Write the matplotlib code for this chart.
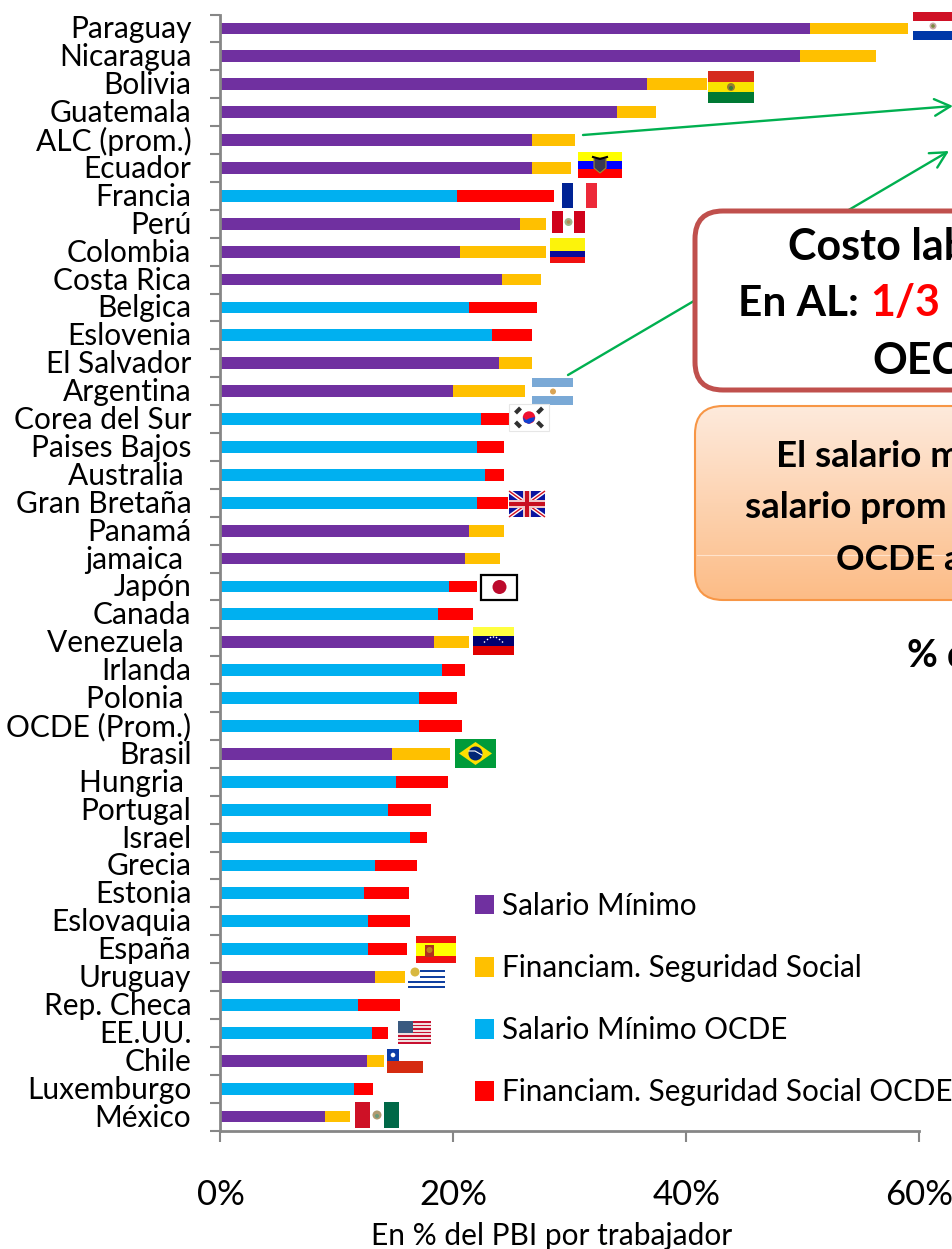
import numpy as np
import matplotlib
matplotlib.use("Agg")
import matplotlib.pyplot as plt
from matplotlib.patches import Rectangle, FancyBboxPatch, Circle, Polygon
from matplotlib.transforms import ScaledTranslation

plt.rcParams['font.family'] = ['Lato', 'DejaVu Sans']

categories = ["Paraguay", "Nicaragua", "Bolivia", "Guatemala", "ALC (prom.)", "Ecuador", "Francia", "Perú",
              "Colombia", "Costa Rica", "Belgica", "Eslovenia", "El Salvador", "Argentina", "Corea del Sur",
              "Paises Bajos", "Australia ", "Gran Bretaña", "Panamá", "jamaica ", "Japón", "Canada", "Venezuela ",
              "Irlanda", "Polonia ", "OCDE (Prom.)", "Brasil", "Hungria ", "Portugal", "Israel", "Grecia",
              "Estonia", "Eslovaquia", "España", "Uruguay", "Rep. Checa", "EE.UU.", "Chile", "Luxemburgo", "México"]
salario = [50.6, 49.7, 36.6, 34.0, 26.7, 26.7, 20.3, 25.7, 20.6, 24.2, 21.3, 23.3, 23.9, 20.0, 22.4, 22.0, 22.7,
           22.0, 21.3, 21.0, 19.6, 18.7, 18.3, 19.0, 17.0, 17.0, 14.7, 15.1, 14.4, 16.3, 13.3, 12.3, 12.7, 12.7,
           13.3, 11.8, 13.0, 12.6, 11.5, 9.0]
seguridad = [8.4, 6.6, 5.15, 3.35, 3.7, 3.35, 8.3, 2.2, 7.3, 3.35, 5.9, 3.4, 2.8, 6.1, 2.6, 2.3, 1.6, 2.7, 3.0,
             3.0, 2.4, 3.0, 3.0, 2.0, 3.3, 3.7, 5.0, 4.4, 3.7, 1.4, 3.6, 3.9, 3.6, 3.3, 2.5, 3.6, 1.4, 1.45,
             1.55, 2.1]
ocde = ["Francia", "Belgica", "Eslovenia", "Corea del Sur", "Paises Bajos", "Australia ", "Gran Bretaña", "Japón",
        "Canada", "Irlanda", "Polonia ", "OCDE (Prom.)", "Hungria ", "Portugal", "Israel", "Grecia", "Estonia",
        "Eslovaquia", "España", "Rep. Checa", "EE.UU.", "Luxemburgo"]
x_ticks = [0, 20, 40, 60]
x_labels = ["0%", "20%", "40%", "60%"]
series_names = ["Salario Mínimo", "Financiam. Seguridad Social", "Salario Mínimo OCDE", "Financiam. Seguridad Social OCDE"]
series_colors = ["#7030A0", "#FFC000", "#00B0F0", "#FF0000"]

W, H = 953, 1249
fig = plt.figure(figsize=(W / 100, H / 100), dpi=100, facecolor="white")
ax = fig.add_axes([220.5 / W, 1 - 1130.5 / H, (919.5 - 220.5) / W, (1130.5 - 14.5) / H])

y = np.arange(len(categories))
sal = np.array(salario)
seg = np.array(seguridad)
is_o = np.array([c in ocde for c in categories])
h = 0.42
ax.barh(y[~is_o], sal[~is_o], height=h, color=series_colors[0], label=series_names[0])
ax.barh(y[~is_o], seg[~is_o], left=sal[~is_o], height=h, color=series_colors[1], label=series_names[1])
ax.barh(y[is_o], sal[is_o], height=h, color=series_colors[2], label=series_names[2])
ax.barh(y[is_o], seg[is_o], left=sal[is_o], height=h, color=series_colors[3], label=series_names[3])

ax.set_xlim(0, 60)
ax.set_ylim(len(categories) - 0.5, -0.5)
for s in ("top", "right"):
    ax.spines[s].set_visible(False)
for s in ("left", "bottom"):
    ax.spines[s].set_color("#868686")
    ax.spines[s].set_linewidth(2.0)
ax.set_yticks(np.arange(len(categories) + 1) - 0.5)
ax.set_yticklabels([])
ax.tick_params(axis="y", which="major", length=7.5, width=1.5, color="#868686")
ax.set_yticks(y, minor=True)
ax.set_yticklabels(categories, minor=True, fontsize=21.5, color="black")
ax.tick_params(axis="y", which="minor", length=0, pad=21)
lift = ScaledTranslation(0, 1.5 / 100, fig.dpi_scale_trans)
for lab in ax.get_yticklabels(minor=True):
    lab.set_transform(lab.get_transform() + lift)
ax.set_xticks(x_ticks)
ax.set_xticklabels(x_labels, fontsize=25)
ax.tick_params(axis="x", length=8, width=1.5, color="#868686", pad=27)
ax.set_xlabel("En % del PBI por trabajador", fontsize=21.5)
ax.xaxis.set_label_coords((552 - 220.5) / 699, -(1222 - 1130.5) / 1116)

ax.legend(loc="upper left", bbox_to_anchor=(475 / W, 1 - 892 / H), bbox_transform=fig.transFigure, frameon=False,
          fontsize=21.3, labelspacing=1.152, handlelength=0.65, handleheight=0.65, handletextpad=0.26,
          borderpad=0, borderaxespad=0)

# overlay in pixel coordinates for slide annotations and flags
ov = fig.add_axes([0, 0, 1, 1], facecolor="none")
ov.set_xlim(0, W)
ov.set_ylim(H, 0)
ov.axis("off")

GREEN = "#00B050"
def open_arrow(x0, y0, x1, y1, z=3):
    ov.annotate("", xy=(x1, y1), xytext=(x0, y0),
                arrowprops=dict(arrowstyle="->,head_length=1.15,head_width=0.6", color=GREEN, lw=1.7,
                                shrinkA=0, shrinkB=0), zorder=z)
open_arrow(583, 135, 953, 106)
open_arrow(568, 375, 949, 151)

# boxes
box1 = FancyBboxPatch((695 + 28, 211 + 28), 400, 179 - 56, boxstyle="round,pad=28,rounding_size=28",
                      fc="white", ec="#C0504D", lw=3.6, zorder=5)
ov.add_patch(box1)
box2 = FancyBboxPatch((695 + 28, 406 + 28), 400, 194 - 56, boxstyle="round,pad=28,rounding_size=28",
                      fc="none", ec="#F79646", lw=1.5, zorder=7)
ov.add_patch(box2)
grad = np.linspace(0, 1, 256)[:, None, None]
c0, c1 = np.array([0xFE, 0xEA, 0xDC]) / 255, np.array([0xFC, 0xBC, 0x86]) / 255
im = ov.imshow(c0 + (c1 - c0) * grad, extent=(695, 1150, 600, 406), aspect="auto", zorder=6)
im.set_clip_path(FancyBboxPatch((695 + 28, 406 + 28), 400, 194 - 56, boxstyle="round,pad=28,rounding_size=28",
                                transform=ov.transData))
ov.plot([697, 953], [555, 555], color="#FFE3CC", lw=0.8, zorder=6.5)
ov.set_xlim(0, W)
ov.set_ylim(H, 0)

def T(x, yy, s, size, **kw):
    ov.text(x, yy, s, fontsize=size, fontweight="bold", va="baseline", ha="left", zorder=8, color=kw.pop("color", "black"), **kw)
T(788, 260, "Costo lab", 31)
T(738, 316, "En AL:", 30.5)
T(870, 316, "1/3", 31, color="#FF0000")
T(872, 374, "OEC", 31)
T(776, 467, "El salario m", 26.5)
T(745, 518, "salario prom", 26.5)
T(836, 570, "OCDE a", 25.5)
T(907, 667, "% d", 27)

# flags
def rect(x0, y0, x1, y1, c, z=9, **kw):
    ov.add_patch(Rectangle((x0, y0), x1 - x0, y1 - y0, fc=c, ec=kw.pop("ec", "none"), zorder=z, **kw))
def hflag(x0, y0, x1, y1, cols, fr=None):
    fr = fr or [1 / len(cols)] * len(cols)
    yy = y0
    for c, f in zip(cols, fr):
        rect(x0, yy, x1, yy + (y1 - y0) * f, c)
        yy += (y1 - y0) * f
def vflag(x0, y0, x1, y1, cols, fr=None):
    fr = fr or [1 / len(cols)] * len(cols)
    xx = x0
    for c, f in zip(cols, fr):
        rect(xx, y0, xx + (x1 - x0) * f, y1, c)
        xx += (x1 - x0) * f
def dot(x, yy, r, c, z=10):
    ov.add_patch(Circle((x, yy), r, fc=c, ec="none", zorder=z))

hflag(913, 12, 953, 40, ["#CF1126", "#FFFFFF", "#0038A8"])
dot(933, 26, 3.5, "#C9A9A9"); dot(933, 26, 1.8, "#7A8A40", 11)
hflag(708, 71, 754, 103, ["#D52B1E", "#F9E300", "#007934"])
dot(731, 87, 4, "#9A7B30"); dot(731, 88, 2, "#3A7A3A", 11)
hflag(578, 152, 622, 178, ["#FFFF00", "#0000FF", "#FF0000"])
ov.add_patch(Polygon([[594, 158], [606, 158], [606, 168], [600, 173], [594, 168]], fc="#3A3A50", ec="#A08A30", lw=0.8, zorder=10))
ov.plot([593, 600, 607], [157, 159, 157], color="black", lw=1.5, zorder=11)
vflag(562, 183, 597, 208, ["#002395", "#FFFFFF", "#ED2939"], [0.31, 0.37, 0.32])
vflag(552, 211, 585, 233, ["#D0021B", "#FFFFFF", "#D0021B"])
dot(568.5, 222, 4, "#9DB58A"); dot(568.5, 222, 1.8, "#B08A50", 11)
hflag(550, 238, 585, 263, ["#FCF30B", "#0A0A9A", "#F01010"], [0.5, 0.25, 0.25])
hflag(532, 378, 573, 405, ["#7AA9D6", "#FFFFFF", "#7AA9D6"])
dot(553, 391.5, 3, "#D9A455")
# Korea
rect(509, 404, 549, 431, "#FFFFFF", ec="#E6E6E6", lw=0.8)
dot(529, 417.5, 6.2, "#F01030")
ov.add_patch(Polygon([[523, 417], [526, 420], [530, 418], [535, 417], [534, 421], [529, 424], [524, 422]], fc="#1040D0", ec="none", zorder=11))
for dx, dy in [(-11, -7), (11, -7), (-11, 7), (11, 7)]:
    ov.plot([529 + dx - 2.5 * np.sign(dx), 529 + dx + 2.5 * np.sign(dx)], [417.5 + dy - 2.5 * np.sign(dy) * np.sign(dx), 417.5 + dy + 2.5 * np.sign(dy) * np.sign(dx)],
            color="#303030", lw=3, zorder=10, solid_capstyle="butt")
# UK
rect(509, 491, 545, 517, "#0A14A0")
for a, b in [((509, 491), (545, 517)), ((509, 517), (545, 491))]:
    ov.plot([a[0], b[0]], [a[1], b[1]], color="white", lw=3, zorder=10, solid_capstyle="butt")
    ov.plot([a[0], b[0]], [a[1], b[1]], color="#D01020", lw=1, zorder=11, solid_capstyle="butt")
rect(523, 491, 531, 517, "#F0C8C8", 12)
rect(509, 500, 545, 508, "#F0C8C8", 12)
rect(525, 491, 529, 517, "#C81020", 13)
rect(509, 502, 545, 506, "#C81020", 13)
# Japan
rect(481.5, 574.5, 517.5, 599.5, "#FFFFFF", ec="black", lw=1.6)
dot(499.5, 587, 7, "#BC0A2C")
hflag(473, 627, 514, 655, ["#FFFF40", "#000070", "#E00000"])
for dx, dy in zip([-9, -6, -3, 0, 3, 6, 9], [8, 5.5, 3.5, 3, 3.5, 5.5, 8]):
    dot(493.5 + dx, 634 + dy, 0.8, "#FFFFFF")
# Brazil
rect(455, 739, 496, 768, "#009B3A")
ov.add_patch(Polygon([[459, 753.5], [475.5, 742], [492, 753.5], [475.5, 765]], fc="#FEDF00", ec="none", zorder=10))
dot(475.5, 753.5, 7, "#002776", 11)
ov.plot([469, 475, 482], [751, 751, 755], color="white", lw=0.8, zorder=12)
hflag(416, 936, 456, 963, ["#F01010", "#FFFF00", "#F01010"], [0.25, 0.5, 0.25])
rect(425, 945, 434, 957, "#B03020")
dot(429.5, 950, 3, "#C08020", 11)
# Uruguay
hflag(408, 968, 445, 988, ["#FFFFFF", "#1040A0", "#FFFFFF", "#1040A0", "#FFFFFF", "#1040A0", "#FFFFFF", "#1040A0"],
      [0.08, 0.1, 0.2, 0.1, 0.16, 0.1, 0.16, 0.1])
rect(408, 968, 420, 980, "#FFFFFF", 10)
dot(415, 972, 4.5, "#D8B840", 11)
# USA
for i in range(7):
    rect(398, 1021 + i * 23 / 6.5, 431, 1021 + i * 23 / 6.5 + 23 / 13, "#C81030")
    rect(398, 1021 + (i + 0.5) * 23 / 6.5, 431, min(1044, 1021 + (i + 1) * 23 / 6.5), "#F0E0E0")
rect(398, 1021, 413, 1033, "#3A5A80", 10)
# Chile
rect(387, 1049, 423, 1061, "#FFFFFF")
rect(387, 1061, 423, 1073, "#D52B10")
rect(387, 1049, 399, 1061, "#0A3CA8", 10)
dot(393, 1055, 2.3, "#FFFFFF", 11)
# Mexico
vflag(355, 1102, 399, 1128, ["#CE1126", "#FFFFFF", "#006847"], [0.33, 0.34, 0.33])
dot(377, 1115, 4.5, "#B09A70"); dot(377, 1116, 2, "#6A9A7A", 11)

fig.savefig("out.png", dpi=100)
